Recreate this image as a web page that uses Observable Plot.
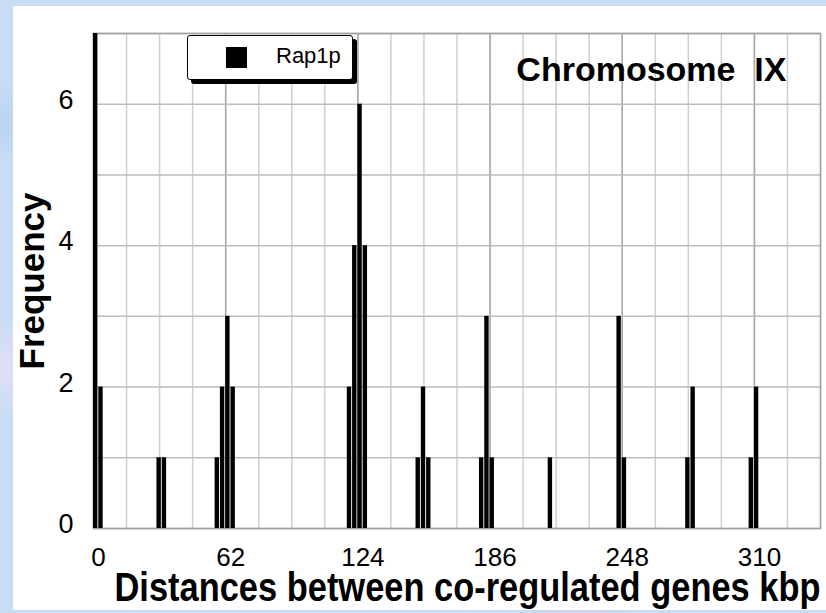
<!DOCTYPE html>
<html>
<head>
<meta charset="utf-8">
<script src="https://cdn.jsdelivr.net/npm/d3@7"></script>
<script src="https://cdn.jsdelivr.net/npm/@observablehq/plot@0.6"></script>
<style>
  html, body { margin: 0; padding: 0; }
  body {
    width: 826px; height: 613px; overflow: hidden; position: relative;
    background-color: #c8dcf3;
    background-image:
      radial-gradient(ellipse 40px 25px at 20% 30%, rgba(220,205,245,0.6), transparent),
      radial-gradient(ellipse 30px 50px at 5px 60%, rgba(235,225,250,0.7), transparent),
      radial-gradient(ellipse 60px 20px at 70% 99%, rgba(215,200,240,0.6), transparent),
      radial-gradient(ellipse 25px 40px at 3px 20%, rgba(180,210,240,0.8), transparent);
    font-family: "Liberation Sans", Arial, sans-serif;
  }
  #panel { position: absolute; left: 13px; top: 6px; width: 813px; height: 604px; background: #fff; }
  #chart { position: absolute; left: 0; top: 0; }
  #legend {
    position: absolute; left: 187px; top: 35px; width: 164px; height: 43px;
    background: #fff; border: 1.5px solid #000; border-radius: 3px;
    box-shadow: 4px 4px 0 #000;
  }
  #legend .sw { position: absolute; left: 38px; top: 11px; width: 21px; height: 21px; background: #000; }
  #legend .lb { position: absolute; left: 88px; top: 7px; font-size: 22px; line-height: 26px; color: #000;
    font-family: "Liberation Sans", Arial, sans-serif; }
</style>
</head>
<body>
<div id="panel"></div>
<div id="chart"></div>
<div id="legend"><div class="sw"></div><div class="lb">Rap1p</div></div>
<script>
// Bin start (kbp) and frequency for each bar
const distances = [0, 2.48, 29.76, 32.24, 57.04, 59.52, 62, 64.48, 119.04, 121.52, 124, 126.48,
  151.28, 153.76, 156.24, 181.04, 183.52, 186, 213.28, 245.52, 248, 277.76, 280.24, 307.52, 310];
const frequencies = [7, 2, 1, 1, 1, 2, 3, 2, 2, 4, 6, 4, 1, 2, 1, 1, 3, 1, 1, 3, 1, 1, 2, 1, 2];
const binWidth = 2.48;
const xTicks = [0, 62, 124, 186, 248, 310];
const yTicks = [0, 2, 4, 6];
const seriesName = "Rap1p";
const chartTitle = "Chromosome\u00a0 IX";
const xLabel = "Distances between co-regulated genes kbp";
const yLabel = "Frequency";

const bars = distances.map((d, i) => ({start: d, end: d + binWidth, freq: frequencies[i]}));
const minorX = d3.range(0, 341.01, 15.5);
const majorX = d3.range(0, 341.01, 62);
const gridY = d3.range(0, 7.01, 1);

const chart = Plot.plot({
  width: 826,
  height: 613,
  marginLeft: 93,
  marginRight: 6,
  marginTop: 33,
  marginBottom: 85,
  style: {background: "transparent", fontFamily: "'Liberation Sans', Arial, sans-serif", color: "#000"},
  x: {domain: [0, 341], axis: null, label: null},
  y: {domain: [0, 7], axis: null, label: null},
  marks: [
    Plot.gridX(minorX, {stroke: "#cfcfcf", strokeOpacity: 1, strokeWidth: 1.5}),
    Plot.gridX(majorX, {stroke: "#a9a9a9", strokeOpacity: 1, strokeWidth: 1.5}),
    Plot.gridY(gridY, {stroke: "#bdbdbd", strokeOpacity: 1, strokeWidth: 1.5}),
    Plot.frame({stroke: "#a0a0a0", strokeWidth: 1.5}),
    Plot.rectY(bars, {x1: "start", x2: "end", y: "freq", fill: "#000", insetRight: 0.9}),
    Plot.axisX(xTicks, {tickSize: 0, tickPadding: 19.5, fontSize: 26, dx: 5, label: null, tickFormat: d => String(d)}),
    Plot.axisY(yTicks, {tickSize: 0, tickPadding: 20, fontSize: 27, dy: -4, label: null, tickFormat: d => String(d)}),
    Plot.text([chartTitle], {frameAnchor: "top-right", text: d => d, dx: -34, dy: 23, lineAnchor: "top",
      textAnchor: "end", fontSize: 34, fontWeight: "bold", fill: "#000"}),
    Plot.text([xLabel], {frameAnchor: "bottom-right", text: d => d, dx: 0, dy: 60, lineAnchor: "middle",
      textAnchor: "end", fontSize: 40, fontWeight: "bold", fill: "#000"}),
    Plot.text([yLabel], {frameAnchor: "left", text: d => d, dx: -61, rotate: -90, lineAnchor: "middle",
      textAnchor: "middle", fontSize: 35, fontWeight: "bold", fill: "#000"})
  ]
});
// condense the x-axis title like the reference's narrow bold face
d3.select(chart).selectAll("text").filter(function() { return this.textContent === xLabel; })
  .attr("textLength", 706).attr("lengthAdjust", "spacingAndGlyphs");
document.getElementById("chart").appendChild(chart);
</script>
</body>
</html>
